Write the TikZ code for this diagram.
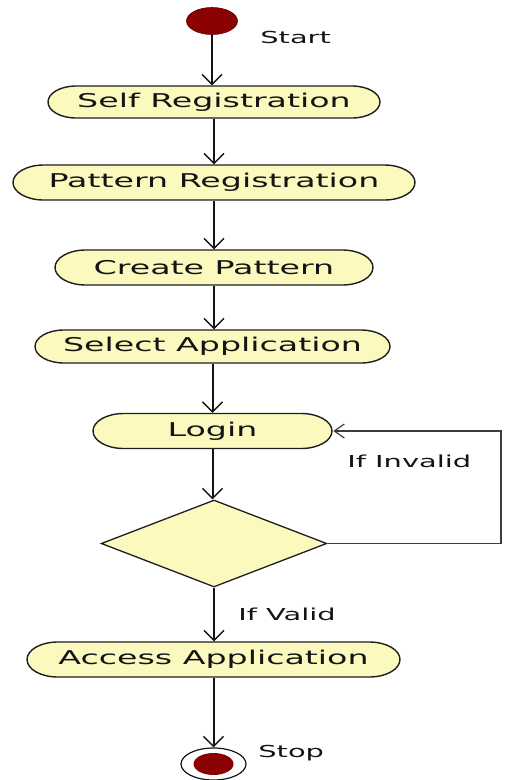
\documentclass[tikz,border=0pt]{standalone}
\usepackage{fontspec}
\setmainfont{DejaVu Sans}
\usetikzlibrary{shapes.misc,shapes.geometric,arrows.meta}

\definecolor{actfill}{RGB}{252,249,190}
\definecolor{actline}{RGB}{30,30,30}
\definecolor{dotred}{RGB}{139,0,0}
\definecolor{ink}{RGB}{20,20,20}
\definecolor{loopgray}{RGB}{60,60,60}

\begin{document}
\begin{tikzpicture}[x=0.571429pt, y=-1pt, xscale=1.75,
  wd/.style={minimum width=#1pt/1.75},
  activity/.style={rounded rectangle, draw=actline, line width=1.4pt,
    fill=actfill, transform shape, inner sep=0pt,
    font=\fontsize{19}{22}\selectfont, text=ink},
  decision/.style={diamond, draw=actline, line width=1.3pt,
    fill=actfill, transform shape, inner sep=0pt},
  note/.style={font=\fontsize{16.5}{19}\selectfont, text=ink,
    transform shape, inner sep=0pt, anchor=base west},
  flow/.style={draw=ink, line width=2pt,
    -{Straight Barb[length=10pt,width=20pt,line width=1.4pt]}},
  backflow/.style={draw=loopgray, line width=1.3pt,
    -{Straight Barb[length=10pt,width=14pt,line width=1.2pt]}},
]
\useasboundingbox (0,0) rectangle (504,780);

% initial and final states
\node[ellipse, fill=dotred, draw=dotred!70!black, line width=0.6pt,
      transform shape, wd=51, minimum height=27pt, inner sep=0pt] (start) at (212,21) {};
\node[ellipse, draw=ink, line width=1.2pt, fill=white, transform shape,
      wd=65, minimum height=32pt, inner sep=0pt] (stop) at (213.5,764) {};
\node[ellipse, fill=dotred, transform shape, wd=40, minimum height=22pt,
      inner sep=0pt] (stopdot) at (stop.center) {};

% activities
\node[activity, wd=332, minimum height=32pt] (self)    at (214,102)   {Self Registration};
\node[activity, wd=402, minimum height=35pt] (pattern) at (214,182.5) {Pattern Registration};
\node[activity, wd=318, minimum height=35pt] (create)  at (214,267.5) {Create Pattern};
\node[activity, wd=355, minimum height=33pt] (select)  at (212.5,346.5) {Select Application};
\node[activity, wd=239, minimum height=35pt] (login)   at (212.5,431) {Login};
\node[decision, wd=226, minimum height=87pt] (check)   at (214,543.5) {};
\node[activity, wd=373, minimum height=35pt] (access)  at (213.5,659.5) {Access Application};

% labels
\node[note] (lstart)   at (260,43)  {Start};
\node[note] (linvalid) at (347,467) {If Invalid};
\node[note] (lvalid)   at (238,620) {If Valid};
\node[note] (lstop)    at (258,757) {Stop};

% main flow
\draw[flow] (start.south)   -- (start.south |- self.north);
\draw[flow] (self.south)    -- (self.south |- pattern.north);
\draw[flow] (pattern.south) -- (pattern.south |- create.north);
\draw[flow] (create.south)  -- (create.south |- select.north);
\draw[flow] (select.south)  -- (select.south |- login.north);
\draw[flow] (login.south)   -- (login.south |- check.north);
\draw[flow] (check.south)   -- (check.south |- access.north);
\draw[flow] (access.south)  -- (access.south |- stop.north);

% retry loop back to login
\coordinate (loopbot) at (501,543.5);
\coordinate (looptop) at (501,431);
\draw[backflow] (check.east) -- (loopbot) -- (looptop) -- (login.east);
\end{tikzpicture}
\end{document}
